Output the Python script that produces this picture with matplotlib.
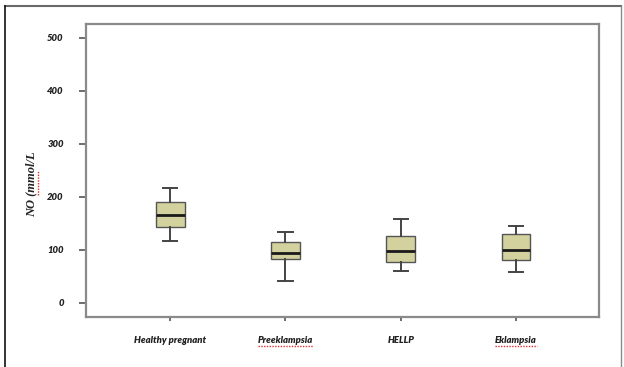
import matplotlib
matplotlib.use("Agg")
import matplotlib.pyplot as plt
from matplotlib.lines import Line2D

categories = ["Healthy pregnant", "Preeklampsia", "HELLP", "Eklampsia"]
whisker_low = [117, 41, 60, 58]
q1 = [143, 83, 77, 81]
median = [166, 94, 98, 100]
q3 = [190, 115, 126, 130]
whisker_high = [216, 134, 158, 145]
yticks = [0, 100, 200, 300, 400, 500]
spellchecked = ["Preeklampsia", "Eklampsia"]

W, H, DPI = 624, 367, 100
fig = plt.figure(figsize=(W / DPI, H / DPI), dpi=DPI)
fig.patch.set_facecolor("white")

left, right, top, bottom = 86, 599, 24, 317
ax = fig.add_axes([left / W, 1 - bottom / H, (right - left) / W, (bottom - top) / H])

stats = []
for i, c in enumerate(categories):
    stats.append(dict(label=c, whislo=whisker_low[i], q1=q1[i], med=median[i],
                      q3=q3[i], whishi=whisker_high[i], fliers=[]))

ax.bxp(stats, positions=range(1, len(categories) + 1), widths=0.25,
       patch_artist=True, showfliers=False,
       boxprops=dict(facecolor="#d3d19d", edgecolor="#555555", linewidth=1.0),
       medianprops=dict(color="#1a1a1a", linewidth=2.0),
       whiskerprops=dict(color="#444444", linewidth=1.4),
       capprops=dict(color="#444444", linewidth=1.4),
       capwidths=0.125)

ax.set_xlim(0.27, 4.72)
ax.set_ylim(-26.4, 526)
ax.set_yticks(yticks)
ax.set_yticklabels([str(v) for v in yticks])
ax.set_xticks(range(1, len(categories) + 1))
ax.set_xticklabels(categories)

for s in ax.spines.values():
    s.set_color("#8a8a8a")
    s.set_linewidth(1.6)

ax.tick_params(axis="y", direction="out", length=5, width=1.2, color="#555555",
               pad=11, labelcolor="#222222")
ax.tick_params(axis="x", direction="out", length=3, width=1.2, color="#555555",
               pad=11, labelcolor="#222222")
for lab in ax.get_yticklabels() + ax.get_xticklabels():
    lab.set_fontfamily("Lato")
    lab.set_fontweight("heavy")
    lab.set_fontstyle("italic")
    lab.set_fontsize(6.8)

ylab = ax.set_ylabel("NO (mmol/L", family="Liberation Serif", style="italic",
                     weight="bold", size=9, color="#222222")
ax.yaxis.set_label_coords((37 - left) / (right - left), (bottom - 184) / (bottom - top))

# outer frame
fig.add_artist(Line2D([5 / W, 621 / W], [1 - 6 / H, 1 - 6 / H], transform=fig.transFigure,
                      color="#6a6a6a", linewidth=1.5))
fig.add_artist(Line2D([5 / W, 5 / W], [1 - 6 / H, 0], transform=fig.transFigure,
                      color="#111111", linewidth=1.2))
fig.add_artist(Line2D([621 / W, 621 / W], [1 - 6 / H, 0], transform=fig.transFigure,
                      color="#8a8a8a", linewidth=1.0))

# red spell-check underlines
fig.canvas.draw()
r = fig.canvas.get_renderer()
for lab in ax.get_xticklabels():
    if lab.get_text() in spellchecked:
        bb = lab.get_window_extent(r)
        y = (bb.y0 - 1) / H
        fig.add_artist(Line2D([bb.x0 / W, bb.x1 / W], [y, y], transform=fig.transFigure,
                              color="#e03030", linewidth=1.0, linestyle=(0, (1, 1))))
bb = ylab.get_window_extent(r)
x = (bb.x1 + 1) / W
h = bb.y1 - bb.y0
fig.add_artist(Line2D([x, x], [(bb.y0 + 0.33 * h) / H, (bb.y0 + 0.72 * h) / H],
                      transform=fig.transFigure, color="#e03030", linewidth=1.0,
                      linestyle=(0, (1, 1))))

fig.savefig("out.png", dpi=DPI, facecolor="white")
